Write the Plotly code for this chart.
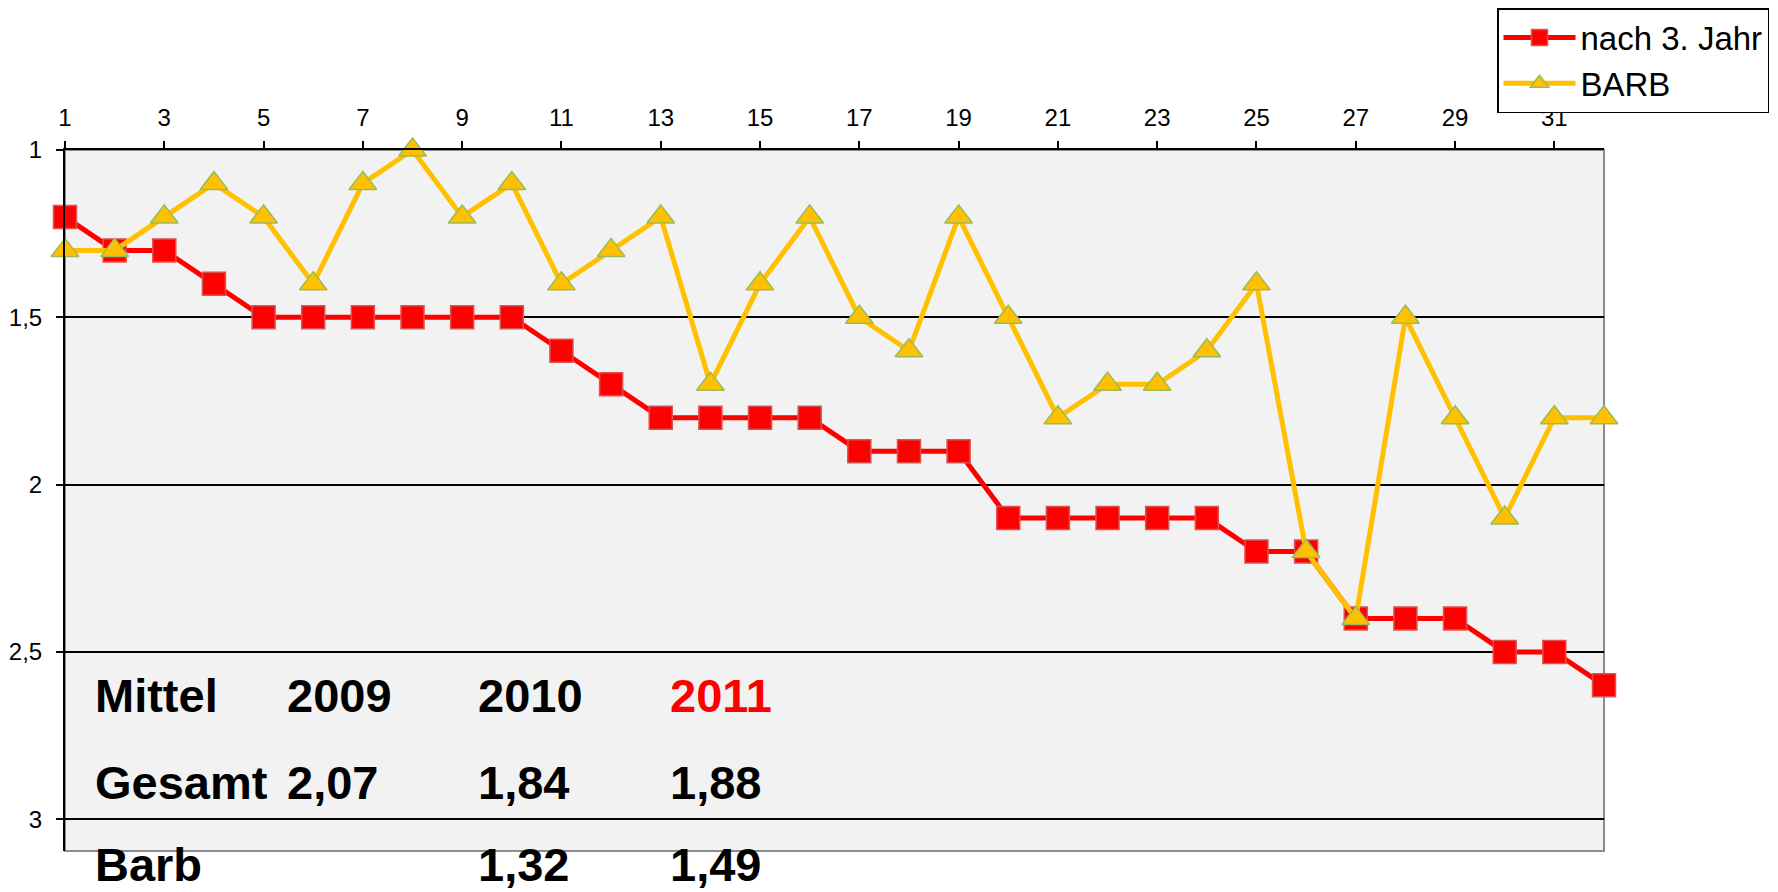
import plotly.graph_objects as go

positions = list(range(1, 33))
nach3 = [1.2, 1.3, 1.3, 1.4, 1.5, 1.5, 1.5, 1.5, 1.5, 1.5, 1.6, 1.7, 1.8, 1.8, 1.8, 1.8,
         1.9, 1.9, 1.9, 2.1, 2.1, 2.1, 2.1, 2.1, 2.2, 2.2, 2.4, 2.4, 2.4, 2.5, 2.5, 2.6]
barb = [1.3, 1.3, 1.2, 1.1, 1.2, 1.4, 1.1, 1.0, 1.2, 1.1, 1.4, 1.3, 1.2, 1.7, 1.4, 1.2,
        1.5, 1.6, 1.2, 1.5, 1.8, 1.7, 1.7, 1.6, 1.4, 2.2, 2.4, 1.5, 1.8, 2.1, 1.8, 1.8]
x_ticks = list(range(1, 33, 2))
y_ticks = [1, 1.5, 2, 2.5, 3]
y_tick_text = ["1", "1,5", "2", "2,5", "3"]

table_rows = [
    ["Mittel", "2009", "2010", "2011"],
    ["Gesamt", "2,07", "1,84", "1,88"],
    ["Barb", "", "1,32", "1,49"],
]
table_colors = [["black", "black", "black", "red"],
                ["black"] * 4, ["black"] * 4]

FONT = "Arial, Liberation Sans, sans-serif"
OFF = 8  # default page body margin
W, H = 1778 - OFF, 892 - OFF
ML, MT = 65 - OFF, 150 - OFF
MR = W - (1604 - OFF)
MB = H - (851 - OFF)

fig = go.Figure()
fig.add_trace(go.Scatter(
    x=positions, y=nach3, name="nach 3. Jahr", mode="lines+markers",
    line=dict(color="#ff0000", width=5),
    marker=dict(symbol="square", size=23, color="#ff0000",
                line=dict(color="#d9534f", width=1.5)),
    cliponaxis=False,
))
fig.add_trace(go.Scatter(
    x=positions, y=barb, name="BARB", mode="lines+markers",
    line=dict(color="#ffc000", width=5),
    marker=dict(symbol="triangle-up", size=24, color="#ffc000",
                line=dict(color="#9bbb59", width=1.5)),
    cliponaxis=False,
))

# table text annotations, positioned in paper coordinates (pixel-derived)
col_px = [94, 286, 477, 669]
row_px = [695, 782, 864]
plot_w = W - ML - MR
plot_h = H - MT - MB
for r, row in enumerate(table_rows):
    for c, txt in enumerate(row):
        if not txt:
            continue
        fig.add_annotation(
            x=(col_px[c] - OFF - ML) / plot_w,
            y=(H - MB - (row_px[r] - OFF)) / plot_h,
            xref="paper", yref="paper", text=f"<b>{txt}</b>",
            showarrow=False, xanchor="left", yanchor="middle", borderpad=0,
            font=dict(family=FONT, size=47, color=table_colors[r][c]),
        )

fig.add_shape(type="rect", xref="paper", yref="paper", x0=0, x1=1, y0=0, y1=1,
              line=dict(color="#8c8c8c", width=2), layer="below")

fig.update_layout(
    width=W, height=H,
    margin=dict(l=ML, r=MR, t=MT, b=MB, autoexpand=False),
    plot_bgcolor="#f2f2f2", paper_bgcolor="white",
    font=dict(family=FONT, color="black"),
    showlegend=True,
    legend=dict(
        xref="container", yref="container",
        x=(1769 - OFF) / W, xanchor="right", y=1, yanchor="top",
        bordercolor="black", borderwidth=1.5, bgcolor="white",
        font=dict(family=FONT, size=33, color="black"),
        tracegroupgap=0, itemwidth=72,
    ),
    xaxis=dict(
        side="top", range=[1, 32], tickvals=x_ticks, showgrid=False,
        showline=True, linecolor="black", linewidth=2, zeroline=False,
        ticks="outside", ticklen=7, tickcolor="black", tickwidth=1.5,
        tickfont=dict(family=FONT, size=24, color="black"), ticklabelstandoff=5,
    ),
    yaxis=dict(
        range=[3.095, 1], tickvals=y_ticks, ticktext=y_tick_text,
        showgrid=True, gridcolor="black", gridwidth=2, zeroline=False,
        showline=True, linecolor="black", linewidth=2,
        ticks="outside", ticklen=7, tickcolor="black", tickwidth=1.5,
        tickfont=dict(family=FONT, size=24, color="black"), ticklabelstandoff=9,
    ),
)

fig.write_html("out.html")
